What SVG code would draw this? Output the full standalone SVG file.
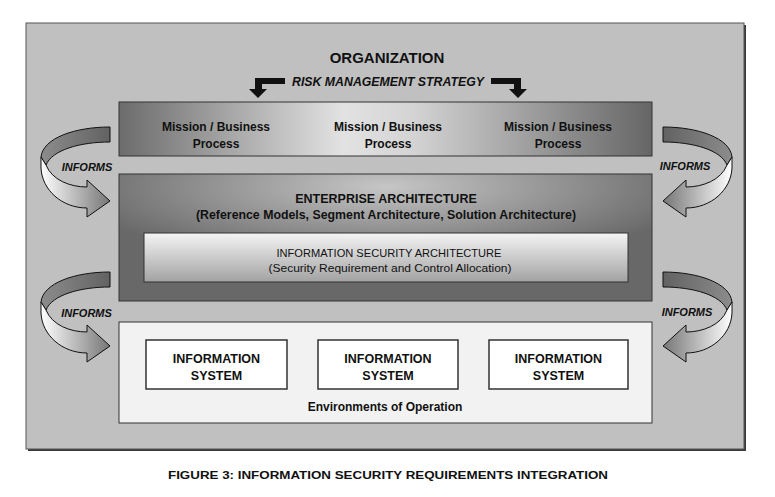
<svg xmlns="http://www.w3.org/2000/svg" xmlns:xlink="http://www.w3.org/1999/xlink" width="775" height="497" viewBox="0 0 775 497">
<style>
text{font-family:"Liberation Sans",Arial,sans-serif;fill:#111;text-anchor:middle}
.b{font-weight:bold}
.bi{font-weight:bold;font-style:italic}
.box{stroke:#333;stroke-width:1}
.is{fill:#fff;stroke:#333;stroke-width:1.5}
.rib{stroke:#111;stroke-width:1;stroke-linejoin:round}
</style>
<defs>
<linearGradient id="gMission" x1="0" y1="0" x2="1" y2="0">
<stop offset="0" stop-color="#6c6c6c"/>
<stop offset="0.42" stop-color="#e2e2e2"/>
<stop offset="0.55" stop-color="#d4d4d4"/>
<stop offset="1" stop-color="#666"/>
</linearGradient>
<radialGradient id="gEnt" cx="0.5" cy="0.1" r="0.6">
<stop offset="0" stop-color="#c6c6c6"/>
<stop offset="1" stop-color="#686868"/>
</radialGradient>
<linearGradient id="gSec" x1="0" y1="0" x2="0" y2="1">
<stop offset="0" stop-color="#f4f4f4"/>
<stop offset="1" stop-color="#a2a2a2"/>
</linearGradient>
<linearGradient id="gDark" gradientUnits="userSpaceOnUse" x1="41" y1="0" x2="110" y2="0">
<stop offset="0" stop-color="#8c8c8c"/>
<stop offset="1" stop-color="#626262"/>
</linearGradient>
<linearGradient id="gLight" gradientUnits="userSpaceOnUse" x1="41" y1="0" x2="110" y2="0">
<stop offset="0" stop-color="#ffffff"/>
<stop offset="1" stop-color="#767676"/>
</linearGradient>
<g id="curl">
<path class="rib" fill="url(#gDark)" d="M110,127 C75,127 43,138 41,157 L46,165 C52,150 80,142 110,142 Z"/>
<path class="rib" fill="url(#gLight)" d="M41,157 L41,168 C42,190 62,208 87,208 L87,217 L110,201 L87,180 L87,187 C70,187 52,180 46,165 Z"/>
</g>
<path id="bent" d="M285,78 L255,78 L255,89 L249,89 L258,98 L267,89 L262,89 L262,84 L285,84 Z"/>
</defs>

<g id="organization">
<rect x="28" y="25" width="718" height="426" fill="#3a3a3a"/>
<rect x="26" y="23" width="718" height="426" fill="#c0c0c0" stroke="#555" stroke-width="1"/>
<text class="b" x="387" y="63" font-size="15">ORGANIZATION</text>
<text class="bi" x="388" y="86" font-size="12.5" textLength="192" lengthAdjust="spacingAndGlyphs">RISK MANAGEMENT STRATEGY</text>
</g>

<g id="mission">
<rect class="box" x="119" y="102" width="533" height="54" fill="url(#gMission)"/>
<text class="b" font-size="12"><tspan x="216" y="131">Mission / Business</tspan><tspan x="216" y="148">Process</tspan></text>
<text class="b" font-size="12"><tspan x="388" y="131">Mission / Business</tspan><tspan x="388" y="148">Process</tspan></text>
<text class="b" font-size="12"><tspan x="558" y="131">Mission / Business</tspan><tspan x="558" y="148">Process</tspan></text>
</g>

<g id="enterprise">
<rect class="box" x="119" y="174" width="533" height="127" fill="url(#gEnt)"/>
<text class="b" x="386" y="203" font-size="12.5">ENTERPRISE ARCHITECTURE</text>
<text class="b" x="386" y="219" font-size="12" textLength="380" lengthAdjust="spacingAndGlyphs">(Reference Models, Segment Architecture, Solution Architecture)</text>
</g>

<g id="infosec">
<rect class="box" x="144" y="233" width="484" height="49" fill="url(#gSec)"/>
<text x="389" y="257" font-size="11.5" textLength="225" lengthAdjust="spacingAndGlyphs">INFORMATION SECURITY ARCHITECTURE</text>
<text x="390" y="272" font-size="11.5" textLength="243" lengthAdjust="spacingAndGlyphs">(Security Requirement and Control Allocation)</text>
</g>

<g id="environments">
<rect class="box" x="119" y="322" width="533" height="101" fill="#f2f2f2"/>
<text class="b" x="385" y="411" font-size="12">Environments of Operation</text>
</g>

<g id="system1">
<rect class="is" x="146" y="340" width="141" height="49"/>
<text class="b" font-size="12.5"><tspan x="216.5" y="363">INFORMATION</tspan><tspan x="216.5" y="380">SYSTEM</tspan></text>
</g>
<g id="system2">
<rect class="is" x="318" y="340" width="140" height="49"/>
<text class="b" font-size="12.5"><tspan x="388" y="363">INFORMATION</tspan><tspan x="388" y="380">SYSTEM</tspan></text>
</g>
<g id="system3">
<rect class="is" x="489" y="340" width="139" height="49"/>
<text class="b" font-size="12.5"><tspan x="558.5" y="363">INFORMATION</tspan><tspan x="558.5" y="380">SYSTEM</tspan></text>
</g>

<g id="connectors">
<use href="#bent" xlink:href="#bent" fill="#111"/>
<use href="#bent" xlink:href="#bent" fill="#111" transform="translate(776,0) scale(-1,1)"/>
<use href="#curl" xlink:href="#curl"/>
<use href="#curl" xlink:href="#curl" transform="translate(773,0) scale(-1,1)"/>
<use href="#curl" xlink:href="#curl" transform="translate(0,145)"/>
<use href="#curl" xlink:href="#curl" transform="translate(773,145) scale(-1,1)"/>
<text class="bi" x="87" y="171" font-size="11">INFORMS</text>
<text class="bi" x="685" y="170" font-size="11">INFORMS</text>
<text class="bi" x="86.5" y="317" font-size="11">INFORMS</text>
<text class="bi" x="687" y="316" font-size="11">INFORMS</text>
</g>

<g id="caption">
<text class="b" x="388" y="479" font-size="11.5" textLength="440" lengthAdjust="spacingAndGlyphs">FIGURE 3: INFORMATION SECURITY REQUIREMENTS INTEGRATION</text>
</g>
</svg>
